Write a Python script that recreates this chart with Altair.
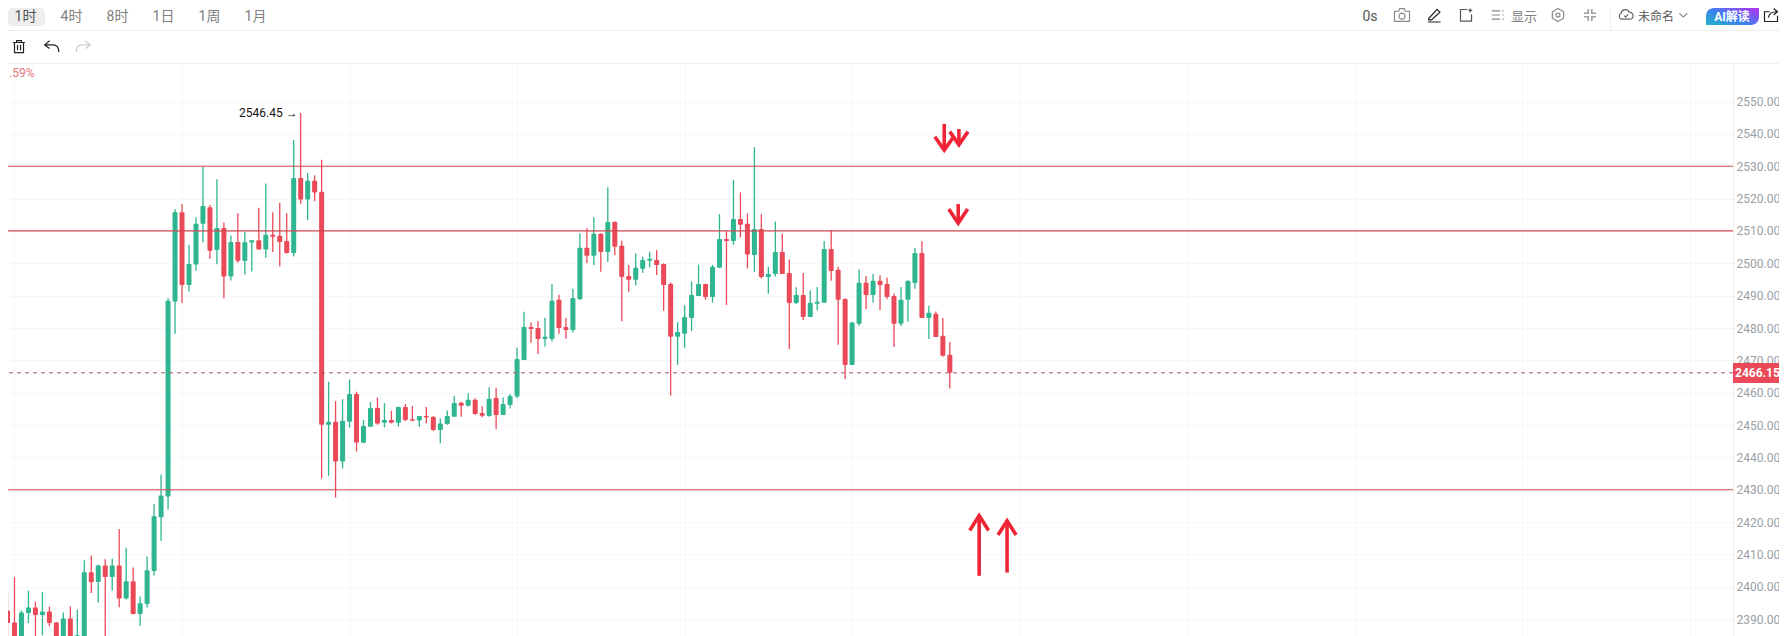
import altair as alt
import pandas as pd

# ---------- data ----------
opens = [2401.3,2392.7,2389.0,2380,2391.9,2393.6,2391.3,2392.4,2389.0,2380,2390.2,2384.7,2382,2404.5,2401.5,2406.6,2403.0,2406.6,2396.4,2401.7,
2391.6,2394.7,2404.9,2421.5,2427.9,2488.2,2515.8,2493.3,2499.6,2512.2,2517.3,2504.1,2510.9,2495.9,2506.6,2500.7,2506.4,2507.1,2504.3,2508.8,
2508.5,2506.9,2503.2,2526.4,2519.7,2525.5,2522.1,2450.1,2451.0,2438.7,2451.0,2459.6,2444.5,2449.5,2455.3,2450.7,2451.6,2450.7,2455.6,2451.8,
2451.4,2452.8,2452.5,2448.5,2450.3,2452.6,2456.9,2456.0,2457.8,2453.7,2452.8,2458.4,2453.1,2456.2,2458.8,2470.1,2480.3,2480.0,2476.6,2476.6,
2488.7,2480.3,2479.4,2488.9,2504.8,2502.3,2509.1,2503.5,2512.8,2505.4,2496.1,2494.9,2498.3,2500.8,2501.0,2499.8,2493.6,2477.3,2478.2,2483.1,
2489.9,2493.6,2489.6,2498.6,2507.5,2506.9,2513.7,2512.2,2502.6,2510.6,2495.8,2496.7,2503.5,2497.0,2487.7,2490.2,2483.4,2487.5,2487.8,2504.4,
2498.0,2489.0,2468.6,2481.3,2494.0,2490.2,2494.6,2493.6,2489.9,2481.3,2488.7,2493.9,2503.2,2483.1,2484.4,2477.6,2471.7]
closes = [2392.5,2388.8,2380,2392.1,2393.6,2391.3,2392.4,2388.8,2380,2390.2,2380,2385,2404.5,2401.4,2406.6,2403.0,2406.6,2396.4,2401.7,2391.6,
2394.9,2405.1,2421.8,2428.2,2488.4,2515.8,2493.3,2499.8,2512.2,2517.7,2503.9,2510.9,2495.9,2506.6,2500.8,2506.5,2507.1,2504.3,2508.8,2508.2,
2506.6,2503.2,2526.4,2519.7,2525.5,2521.9,2450.1,2451.0,2438.7,2451.3,2459.6,2444.6,2449.7,2455.3,2450.5,2451.6,2450.7,2455.6,2451.6,2451.3,
2452.8,2452.3,2448.5,2450.5,2452.8,2456.8,2456.0,2457.8,2453.4,2452.9,2458.1,2453.1,2456.5,2459.0,2470.4,2480.3,2479.7,2476.6,2477.3,2488.4,
2480.0,2479.4,2489.3,2504.8,2502.3,2509.1,2503.5,2512.8,2505.1,2495.8,2494.9,2498.6,2501.0,2501.4,2499.5,2493.3,2477.3,2478.8,2483.4,2490.2,
2493.6,2489.6,2498.9,2507.5,2506.9,2513.7,2511.9,2502.7,2510.6,2495.8,2496.7,2503.5,2496.7,2487.7,2490.2,2483.4,2487.8,2488.1,2504.4,2497.6,
2488.7,2468.6,2481.7,2494.0,2490.2,2494.6,2493.3,2489.6,2481.3,2488.7,2494.6,2503.2,2483.1,2484.7,2477.2,2471.4,2466.15]
highs = [2409.4,2398.1,2403.0,2392.7,2398.8,2395.4,2398.4,2393.9,2389.1,2392.1,2393.9,2392.9,2408.2,2409.7,2406.9,2408.5,2408.7,2417.9,2412.1,2406.0,
2397.0,2409.4,2425.5,2434.7,2489.2,2516.7,2518.3,2505.7,2514.2,2529.9,2518.0,2526.0,2512.6,2508.6,2515.5,2509.8,2507.1,2517.2,2524.7,2515.8,
2518.7,2515.5,2538.1,2546.45,2527.9,2527.2,2532.0,2463.4,2457.4,2458.0,2464.1,2460.3,2451.6,2457.1,2458.5,2456.8,2454.4,2455.7,2456.5,2455.9,
2452.9,2455.6,2452.8,2452.1,2454.5,2459.0,2457.2,2459.8,2458.3,2455.8,2461.7,2461.5,2458.5,2459.6,2474.0,2485.0,2481.7,2482.2,2483.2,2493.6,
2490.3,2483.1,2492.1,2509.3,2510.8,2514.2,2509.3,2523.5,2513.0,2507.0,2499.5,2503.1,2502.0,2503.6,2504.1,2500.0,2494.1,2481.8,2487.0,2494.4,
2499.6,2493.7,2499.5,2515.2,2510.0,2525.8,2521.9,2515.4,2535.9,2515.2,2498.9,2512.9,2509.1,2501.2,2492.6,2497.0,2491.6,2492.7,2506.9,2510.3,
2498.9,2489.2,2481.9,2498.1,2496.1,2496.7,2496.3,2495.5,2490.7,2492.7,2494.6,2504.7,2506.8,2486.9,2485.1,2483.1,2475.7]
lows = [2391.2,2383,2378,2378,2388.8,2382,2385.0,2387.8,2378,2378,2378,2380,2380,2398.1,2395.1,2382,2398.8,2393.7,2396.1,2391.5,
2387.9,2393.6,2403.5,2414.2,2423.9,2478.2,2487.8,2491.3,2497.7,2506.5,2501.4,2499.7,2489.1,2494.7,2500.2,2496.5,2497.5,2504.3,2501.7,2503.5,
2499.0,2503.0,2502.1,2518.4,2513.4,2519.2,2433.5,2434.3,2427.6,2436.6,2449.2,2441.8,2444.5,2449.5,2450.1,2449.3,2450.5,2449.5,2451.2,2451.2,
2449.5,2450.5,2448.1,2444.4,2450.1,2452.6,2452.6,2455.7,2453.2,2452.4,2452.6,2448.8,2453.1,2455.1,2458.3,2470.1,2475.4,2472.0,2474.3,2475.8,
2478.2,2476.7,2478.6,2488.7,2500.1,2499.5,2497.4,2500.4,2502.5,2482.1,2491.2,2493.2,2497.0,2498.8,2496.4,2485.3,2459.1,2468.6,2473.9,2479.1,
2489.9,2488.7,2487.8,2498.6,2487.1,2505.7,2508.0,2498.4,2497.3,2495.3,2490.6,2495.9,2496.7,2473.4,2487.4,2482.5,2483.4,2485.5,2487.8,2494.6,
2474.8,2464.2,2468.6,2480.7,2485.9,2487.8,2485.6,2488.9,2474.1,2480.6,2481.9,2492.1,2483.1,2476.6,2477.2,2471.1,2461.3]

y_ticks = [2390,2400,2410,2420,2430,2440,2450,2460,2470,2480,2490,2500,2510,2520,2530,2540,2550]
x_ticks = [2,26,50,74,98,122,146,170,194,218,242]
level_prices = [2530,2510,2430]
last_price = 2466.15
peak_index = 43
peak_price = 2546.45
peak_label = "2546.45 →"
pct_label = ".59%"

arrow_k = [140.2,144.2,135.2,137.3,137.2]
arrow_tip = [2422.0,2420.4,2535.0,2536.6,2512.4]
arrow_tail = [2403.4,2404.4,2543.1,2541.5,2518.3]
arrow_wing_p = [2417.4,2416.0,2539.1,2540.7,2516.8]
arrow_wing_k = [1.35,1.3,1.35,1.3,1.35]

period_labels = ["1时","4时","8时","1日","1周","1月"]

# ---------- palette / geometry ----------
GREEN, RED = "#2fb58f", "#ea4a57"
LINE = "#d44a54"
GRID = "#f6f7f8"
SANS = "Roboto, 'Noto Sans CJK SC'"
NUM = "Roboto"
PAD_T = 56
W, H = 1725, 572
def px(X): return X - 8
def py(Y): return Y - 64

xs = alt.Scale(domain=[1.0688, 248.2], nice=False, zero=False, padding=0)
ys = alt.Scale(domain=[2384.8, 2561.6], nice=False, zero=False, padding=0)
XAX = alt.Axis(values=x_ticks, grid=True, gridColor=GRID, gridWidth=1, labels=False, ticks=False,
               domain=False, orient="bottom", title=None)
YAX = alt.Axis(values=y_ticks, orient="right", format=".2f", grid=True, gridColor=GRID, gridWidth=1,
               tickColor="#f1f1f1", tickSize=2, domainColor="#eeeeee", labelColor="#9aa0a6",
               labelFont=NUM, labelFontSize=12, labelPadding=1, title=None)

def XQ(f="k:Q"): return alt.X(f, scale=xs, axis=XAX)
def YQ(f): return alt.Y(f, scale=ys, axis=YAX)

df = pd.DataFrame({"k": range(len(opens)), "o": opens, "c": closes, "h": highs, "l": lows})
df["dir"] = ["up" if c >= o else "down" for o, c in zip(opens, closes)]
dir_color = alt.Color("dir:N", scale=alt.Scale(domain=["up","down"], range=[GREEN, RED]), legend=None)

layers = []

# wicks and bodies
layers.append(alt.Chart(df).mark_rule(strokeWidth=1.3, clip=True).encode(
    x=XQ(), y=YQ("l:Q"), y2="h:Q", color=dir_color))
layers.append(alt.Chart(df).mark_bar(width=5, cornerRadius=1, clip=True).encode(
    x=XQ(), y=YQ("o:Q"), y2="c:Q", color=dir_color))

# horizontal levels
layers.append(alt.Chart(pd.DataFrame({"p": level_prices})).mark_rule(color=LINE, strokeWidth=1.2).encode(
    y=YQ("p:Q")))
layers.append(alt.Chart(pd.DataFrame({"p": [last_price]})).mark_rule(color="#a85a60", strokeWidth=1, strokeDash=[4,4]).encode(
    y=YQ("p:Q")))

# peak label
layers.append(alt.Chart(pd.DataFrame({"k":[peak_index],"p":[peak_price],"t":[peak_label]})).mark_text(
    align="right", baseline="middle", dx=-3, font=NUM, fontSize=12, color="#111111").encode(
    x=XQ(), y=YQ("p:Q"), text="t:N"))

# hand-drawn arrows
for k, tip, tail, wp, wk in zip(arrow_k, arrow_tip, arrow_tail, arrow_wing_p, arrow_wing_k):
    sw = 3.6
    layers.append(alt.Chart(pd.DataFrame({"k":[k],"a":[tail],"b":[tip]})).mark_rule(color="#ef2535", strokeWidth=sw).encode(
        x=XQ(), y=YQ("a:Q"), y2="b:Q"))
    head = pd.DataFrame({"k":[k-wk,k,k+wk],"p":[wp,tip,wp],"i":[0,1,2]})
    layers.append(alt.Chart(head).mark_line(color="#ef2535", strokeWidth=sw, strokeJoin="miter").encode(
        x=XQ(), y=YQ("p:Q"), order="i:Q"))

one = pd.DataFrame({"a":[0]})

def chrome_line(X1, Y1, X2, Y2, color="#eeeeee", width=1):
    return alt.Chart(one).mark_rule(color=color, strokeWidth=width).encode(
        x=alt.value(px(X1)), x2=alt.value(px(X2)), y=alt.value(py(Y1)), y2=alt.value(py(Y2)))

def chrome_text(t, X0, Y0, color="#666666", size=14, align="center", font=SANS, weight="normal"):
    return alt.Chart(one).mark_text(align=align, baseline="middle", font=font, fontSize=size,
                                    color=color, fontWeight=weight).encode(
        x=alt.value(px(X0)), y=alt.value(py(Y0)), text=alt.value(t))

def chrome_rect(X1, Y1, X2, Y2, **kw):
    return alt.Chart(one).mark_rect(**kw).encode(
        x=alt.value(px(X1)), x2=alt.value(px(X2)), y=alt.value(py(Y1)), y2=alt.value(py(Y2)))

def icon(path, X0, Y0, side, color, width=1.2):
    return alt.Chart(one).mark_point(shape=path, size=side*side, filled=False, color=color, strokeWidth=width,
                                     opacity=1).encode(x=alt.value(px(X0)), y=alt.value(py(Y0)))

# toolbar frame
layers += [
    chrome_line(8, 30.5, 1787, 30.5),
    chrome_line(8, 63.5, 1787, 63.5),
    chrome_line(1610.5, 8, 1610.5, 30),
    chrome_rect(8, 8, 45, 26, color="#eeeeee", cornerRadius=4),
]
for i, lab in enumerate(period_labels):
    layers.append(chrome_text(lab, 25.5 + 46*i, 16.5, color="#555555" if i == 0 else "#808080"))

layers += [
    chrome_text("0s", 1370, 16.5, color="#555555", font=NUM, size=14),
    chrome_text("显示", 1524, 16.5, color="#808080", size=13),
    chrome_text("未命名", 1656, 16.5, color="#555555", size=12),
    chrome_rect(1706, 8, 1759, 25, cornerRadiusTopLeft=8, cornerRadiusBottomRight=8,
                color=alt.Gradient(gradient="linear", x1=0, y1=1, x2=1, y2=0.2,
                                   stops=[alt.GradientStop(offset=0, color="#1fb6c4"),
                                          alt.GradientStop(offset=0.5, color="#3d7ff0"),
                                          alt.GradientStop(offset=1, color="#a63df0")])),
    chrome_text("AI解读", 1732, 16.5, color="#ffffff", size=12, weight="bold"),
    chrome_text(pct_label, 9, 73, color="#e8747c", size=12, align="left", font=NUM),
]

GRAY = "#8a8a8a"
DARK = "#222222"
layers += [
    icon("M-1,-0.7 L1,-0.7 M-0.4,-0.7 L-0.4,-1 L0.4,-1 L0.4,-0.7 M-0.75,-0.7 L-0.75,1 L0.75,1 L0.75,-0.7 M-0.25,-0.3 L-0.25,0.6 M0.25,-0.3 L0.25,0.6", 19, 46.7, 12, DARK),
    icon("M-0.3,-0.9 L-1,-0.3 L-0.3,0.2 M-1,-0.3 L0.2,-0.3 C0.7,-0.3 1,0.1 1,0.7", 51.7, 47, 14, DARK),
    icon("M0.3,-0.9 L1,-0.3 L0.3,0.2 M1,-0.3 L-0.2,-0.3 C-0.7,-0.3 -1,0.1 -1,0.7", 83.3, 47, 14, "#cccccc"),
    icon("M-1,-0.5 L-0.45,-0.5 L-0.3,-0.85 L0.3,-0.85 L0.45,-0.5 L1,-0.5 L1,0.85 L-1,0.85 Z M0.4,0.15 A0.4,0.4 0 1 1 -0.4,0.15 A0.4,0.4 0 1 1 0.4,0.15 Z", 1402, 15, 15, GRAY),
    icon("M-0.8,0.5 L0.4,-0.8 L0.8,-0.4 L-0.4,0.7 L-0.8,0.7 Z M-0.9,1 L0.9,1", 1434.3, 15, 14, DARK),
    icon("M0.2,-0.85 L-0.85,-0.85 L-0.85,0.95 L0.85,0.95 L0.85,-0.1 M0.65,-1 L0.65,-0.4 M0.35,-0.7 L0.95,-0.7", 1466, 15, 13, "#555555"),
    icon("M-1,-0.7 L0.4,-0.7 M-1,0 L0.4,0 M-1,0.7 L0.4,0.7 M0.8,-0.7 L1,-0.7 M0.8,0 L1,0 M0.8,0.7 L1,0.7", 1497.7, 15, 12, GRAY),
    icon("M0,-1 L0.87,-0.5 L0.87,0.5 L0,1 L-0.87,0.5 L-0.87,-0.5 Z M0.3,0 A.3,.3 0 1 1 -.3,0 A.3,.3 0 1 1 .3,0 Z", 1558, 15, 13, GRAY),
    icon("M-0.3,-1 L-0.3,-0.3 L-1,-0.3 M0.3,-1 L0.3,-0.3 L1,-0.3 M-0.3,1 L-0.3,0.3 L-1,0.3 M0.3,1 L0.3,0.3 L1,0.3", 1590, 15, 12, "#a0a0a0", 1.6),
    icon("M-0.6,0.6 A0.45,0.45 0 0 1 -0.7,-0.25 A0.6,0.6 0 0 1 0.45,-0.4 A0.5,0.5 0 0 1 0.55,0.6 Z M-0.25,0.1 L-0.05,0.3 L0.3,-0.1", 1626, 15, 14, "#666666"),
    icon("M-1,-0.4 L0,0.5 L1,-0.4", 1683.3, 15, 8, GRAY),
    icon("M1,0.1 L1,1 L-1,1 L-1,-0.5 L-0.2,-0.5 M-0.4,0.4 C-0.3,-0.2 0.2,-0.5 0.9,-0.5 M0.4,-1 L1,-0.5 L0.4,0", 1771, 15, 13, DARK),
]

# last-price tag
layers += [
    chrome_rect(1733, 363, 1779, 383, color=RED),
    alt.Chart(pd.DataFrame({"p":[last_price], "t":[f"{last_price:.2f}"]})).mark_text(
        align="left", baseline="middle", font=NUM, fontSize=12, fontWeight="bold", color="#ffffff").encode(
        x=alt.value(px(1735)), y=YQ("p:Q"), text="t:N"),
]

chart = alt.layer(*layers).properties(
    width=W, height=H,
    autosize=alt.AutoSizeParams(type="none"),
    padding={"left": 0, "top": PAD_T, "right": 46, "bottom": 0},
    background="#ffffff",
).configure_view(stroke=None)

chart.save("out.html", embed_options={"renderer": "svg", "actions": False})
